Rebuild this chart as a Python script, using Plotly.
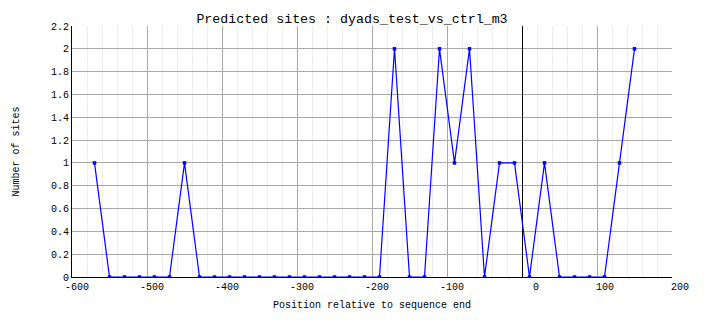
import plotly.graph_objects as go

# Data
positions = [-570, -550, -530, -510, -490, -470, -450, -430, -410, -390,
             -370, -350, -330, -310, -290, -270, -250, -230, -210, -190,
             -170, -150, -130, -110, -90, -70, -50, -30, -10, 10,
             30, 50, 70, 90, 110, 130, 150]
sites = [1, 0, 0, 0, 0, 0, 1, 0, 0, 0,
         0, 0, 0, 0, 0, 0, 0, 0, 0, 0,
         2, 0, 0, 2, 1, 2, 0, 1, 1, 0,
         1, 0, 0, 0, 0, 1, 2]

x_tick_vals = [-600, -500, -400, -300, -200, -100, 0, 100, 200]
x_tick_text = ["-600", "-500", "-400", "-300", "-200", "-100", "0", "100", "200"]
y_tick_vals = [0, 0.2, 0.4, 0.6, 0.8, 1.0, 1.2, 1.4, 1.6, 1.8, 2.0, 2.2]
y_tick_text = ["0", "0.2", "0.4", "0.6", "0.8", "1", "1.2", "1.4", "1.6", "1.8", "2", "2.2"]

title_text = "Predicted sites : dyads_test_vs_ctrl_m3"
x_title = "Position relative to sequence end"
y_title = "Number of sites"

FONT = "Liberation Mono, DejaVu Sans Mono, monospace"

# pad x tick labels so their right edges line up like the reference
pad = "\u00a0"
x_tick_text_padded = [pad * (4 - len(t)) + t for t in x_tick_text]

fig = go.Figure()
fig.add_trace(go.Scatter(
    x=positions, y=sites, mode="lines+markers",
    line=dict(color="#0000ff", width=1.2),
    marker=dict(symbol="square", size=3.5, color="#0000ff", line=dict(width=0)),
    showlegend=False, hoverinfo="skip",
))

fig.update_layout(
    width=704, height=328,
    margin=dict(l=72, r=32, t=26, b=51),
    paper_bgcolor="white", plot_bgcolor="white",
    font=dict(family=FONT, size=10, color="black"),
    title=dict(text=title_text, xref="container", x=0.5, xanchor="center",
               yref="container", y=1 - 18 / 328, yanchor="middle",
               font=dict(family=FONT, size=13.3, color="black")),
)

fig.update_xaxes(
    range=[-600, 200], tickmode="array", tickvals=x_tick_vals, ticktext=x_tick_text_padded,
    ticks="", ticklabelshift=5,
    showgrid=True, gridcolor="#a8a8a8", gridwidth=1,
    minor=dict(tickmode="linear", tick0=-600, dtick=20, showgrid=True, gridcolor="#eeeeee", gridwidth=1, ticks=""),
    zeroline=True, zerolinecolor="black", zerolinewidth=1,
    showline=True, linecolor="black", linewidth=1,
    title=dict(text=x_title, font=dict(family=FONT, size=10), standoff=8),
    tickfont=dict(family=FONT, size=10),
)
fig.update_yaxes(
    range=[0, 2.2], tickmode="array", tickvals=y_tick_vals, ticktext=y_tick_text,
    ticks="",
    showgrid=True, gridcolor="#a8a8a8", gridwidth=1,
    zeroline=False,
    showline=True, linecolor="black", linewidth=1,
    title=dict(text=y_title, font=dict(family=FONT, size=10), standoff=29),
    tickfont=dict(family=FONT, size=10),
)

fig.write_html("out.html")
